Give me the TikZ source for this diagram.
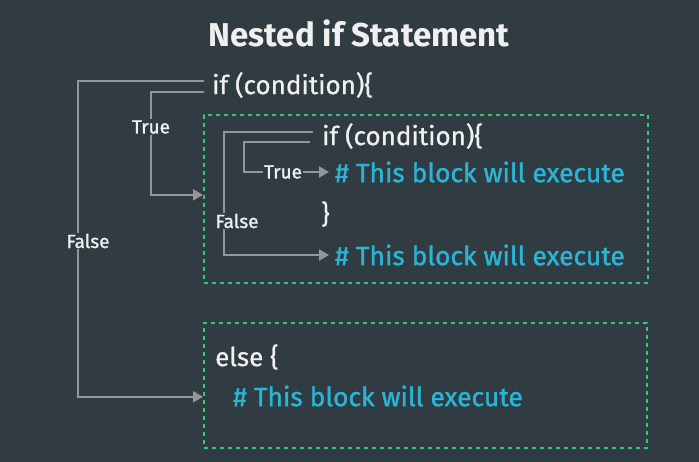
\documentclass[tikz,border=0pt]{standalone}
\usepackage{fontspec}
\setmainfont{Fira Sans}
\newfontfamily\medfont[FakeBold=1.2]{Fira Sans}
\newfontfamily\bookfont[FakeBold=0.7]{Fira Sans}
\usetikzlibrary{arrows.meta}
\definecolor{bgslate}{RGB}{48, 60, 66}
\definecolor{linegray}{RGB}{150, 150, 150}
\definecolor{codewhite}{RGB}{240, 240, 240}
\definecolor{commentcyan}{RGB}{42, 180, 214}
\definecolor{boxgreen}{RGB}{46, 204, 120}

\begin{document}
\begin{tikzpicture}[x=1pt, y=-1pt,
    code/.style={text=codewhite, anchor=west, inner sep=0pt, font=\fontsize{26}{30}\bookfont},
    comment/.style={text=commentcyan, anchor=west, inner sep=0pt, font=\fontsize{26.4}{30}\medfont},
    tag/.style={text=codewhite, inner sep=1pt, font=\fontsize{19}{22}\medfont},
    blockbox/.style={draw=boxgreen, dash pattern=on 4pt off 4pt, line width=1.7pt, anchor=north west, inner sep=0pt},
    wire/.style={draw=linegray, line width=2.2pt},
    flow/.style={wire, -{Triangle[length=10pt, width=11pt]}}]
        \fill[bgslate] (0,0) rectangle (699,462);
        \useasboundingbox (0,0) rectangle (699,462);
        \node[text=codewhite, font=\fontsize{33}{38}\selectfont\bfseries] (title) at (359,33) {Nested if Statement};

        % dashed blocks
        \node[blockbox, minimum width=444pt, minimum height=168pt] (innerbox) at (203,114) {};
        \node[blockbox, minimum width=443pt, minimum height=125pt] (elsebox) at (203,322) {};

        % outer if
        \node[code] (outerif) at (212,85) {if (condition)\{};
        \coordinate (oa) at (204,81);
        \coordinate (ob) at (204,92);
        \node[tag] (otrue) at (151,127) {True};
        \node[tag] (ofalse) at (88,241) {False};
        \draw[wire] (oa) -| ([xshift=-10pt]ofalse.north);
        \draw[flow] ([xshift=-10pt]ofalse.south) |- ([yshift=-11.5pt]elsebox.west);
        \draw[wire] (ob) -| (otrue.north);
        \draw[flow] (otrue.south) |- ([yshift=4pt]innerbox.west);

        % inner if
        \node[code] (innerif) at (322,136) {if (condition)\{};
        \node[comment] (thenline) at (335,172) {\# This block will execute};
        \node[code] (closebrace) at (321,214) {\}};
        \node[comment] (afterline) at (335,255) {\# This block will execute};
        \coordinate (ia) at (313,132);
        \coordinate (ib) at (310,142);
        \node[tag] (itrue) at (283,172) {True};
        \node[tag] (ifalse) at (237,221) {False};
        \draw[wire] (ia) -| ([xshift=-13pt]ifalse.north);
        \draw[flow] ([xshift=-13pt]ifalse.south) |- ([xshift=-6pt]afterline.west);
        \draw[wire] (ib) -| (244,172) -- (itrue.west);
        \draw[flow] (itrue.east) -- ([xshift=-6pt]thenline.west);

        % else block
        \node[code] (elseline) at (215,357) {else \{};
        \node[comment] (elsecomment) at (233,396) {\# This block will execute};
      \end{tikzpicture}
\end{document}
